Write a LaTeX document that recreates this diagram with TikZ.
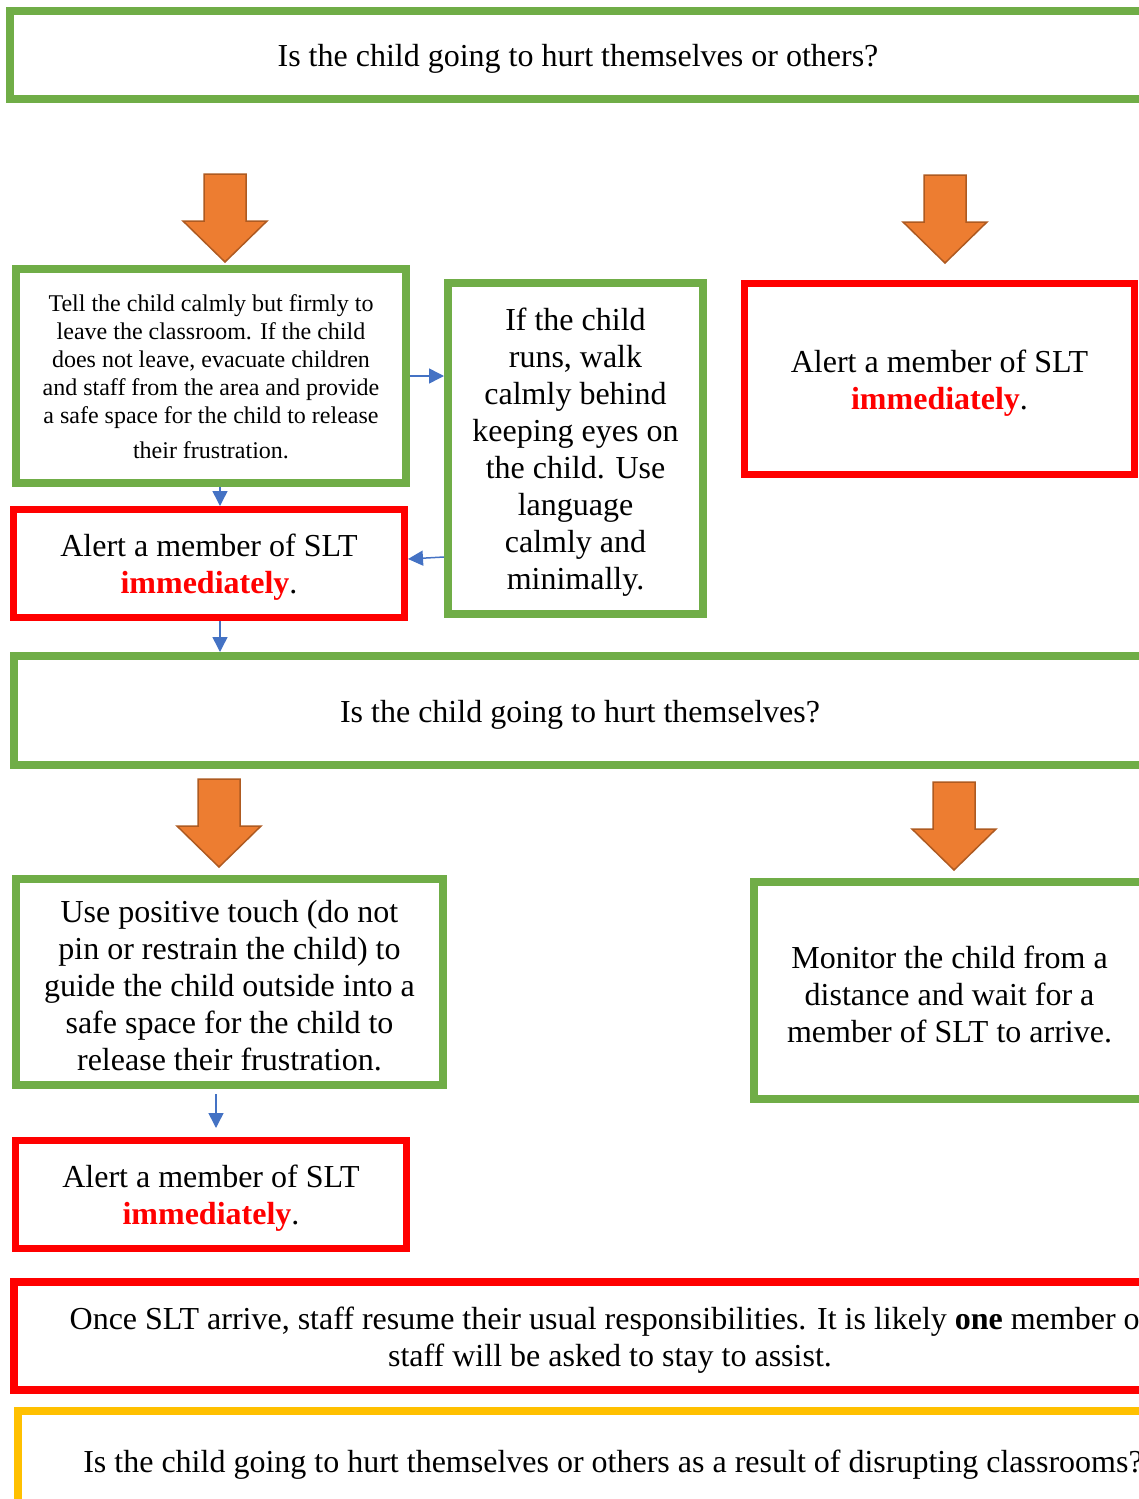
\documentclass[tikz,border=0pt]{standalone}
\usepackage{fontspec}
\setmainfont{Liberation Serif}
\usetikzlibrary{arrows.meta}

\definecolor{boxgreen}{HTML}{70AD47}
\definecolor{boxred}{HTML}{FF0000}
\definecolor{boxyellow}{HTML}{FFC000}
\definecolor{arroworange}{HTML}{ED7D31}
\definecolor{arrowedge}{HTML}{AE5A21}
\definecolor{flowblue}{HTML}{4472C4}
% taller first line, moves the text a little down in its box
\newcommand{\lift}{\rule{0pt}{30pt}}

\begin{document}
\begin{tikzpicture}[x=1pt, y=-1pt,
		box/.style={draw, align=center, inner sep=0pt, font=\fontsize{32pt}{37pt}\selectfont,
			execute at begin node={\lift}},
		greenbox/.style={box, draw=boxgreen, line width=8pt},
		redbox/.style={box, draw=boxred, line width=7pt},
		flow/.style={flowblue, line width=1.5pt, -> , >={Triangle[length=15pt,width=15pt]}},
		orangearrow/.pic={\draw[fill=arroworange, draw=arrowedge, line width=1.5pt]
			(-21,0) -- (21,0) -- (21,47) -- (42,47) -- (0,88) -- (-42,47) -- (-21,47) -- cycle;}]
		\useasboundingbox (0,0) rectangle (1139,1499);
		\clip (0,0) rectangle (1139,1499);
		% question boxes and steps
		\node[greenbox, minimum width=1136pt, minimum height=88pt] (q1) at (578,55) {Is the child going to hurt themselves or others?};
		\node[greenbox, minimum width=390pt, minimum height=214pt, font=\fontsize{24pt}{28pt}\selectfont,
			execute at begin node={}] (tell) at (211,376)
			{\rule{0pt}{19pt}Tell the child calmly but firmly to\\ leave the classroom. If the child\\ does not leave, evacuate children\\ and staff from the area and provide\\ a safe space for the child to release\\[7pt] their frustration.};
		\node[greenbox, minimum width=255pt, minimum height=331pt] (runs) at (575.5,448.5)
			{\lift If the child\\ runs, walk\\ calmly behind\\ keeping eyes on\\ the child. Use\\ language\\ calmly and\\ minimally.};
		\node[redbox, minimum width=390pt, minimum height=191pt] (alertR) at (939.5,379)
			{\lift Alert a member of SLT\\ \textcolor{boxred}{\textbf{immediately}}.};
		\node[redbox, minimum width=391pt, minimum height=108pt] (alertA) at (209,563.5)
			{\lift Alert a member of SLT\\ \textcolor{boxred}{\textbf{immediately}}.};
		\node[greenbox, minimum width=1132pt, minimum height=109pt] (qself) at (580,710.5) {Is the child going to hurt themselves?};
		\node[greenbox, minimum width=427pt, minimum height=206pt] (touch) at (229.5,982)
			{\lift Use positive touch (do not\\ pin or restrain the child) to\\ guide the child outside into a\\ safe space for the child to\\ release their frustration.};
		\node[greenbox, minimum width=391pt, minimum height=217pt] (monitor) at (949.5,990.5)
			{\lift Monitor the child from a\\ distance and wait for a\\ member of SLT to arrive.};
		\node[redbox, minimum width=391pt, minimum height=108pt] (alertB) at (211,1194.5)
			{\lift Alert a member of SLT\\ \textcolor{boxred}{\textbf{immediately}}.};
		\node[redbox, line width=8pt, minimum width=1192pt, minimum height=108pt] (once) at (610,1336)
			{\lift Once SLT arrive, staff resume their usual responsibilities. It is likely \textbf{one} member of\\ staff will be asked to stay to assist.};
		\node[box, draw=boxyellow, line width=8pt, minimum width=1190pt, minimum height=100pt] (qclass) at (613,1461)
			{Is the child going to hurt themselves or others as a result of disrupting classrooms?};
		% big orange arrows
		\pic at (225,174) {orangearrow};
		\pic at (945,175) {orangearrow};
		\pic at (219,779) {orangearrow};
		\pic at (954,782) {orangearrow};
		% small blue arrows
		\draw[flow] ([xshift=9pt]tell.south) -- ([xshift=9pt]tell.south |- alertA.north);
		\draw[flow] (tell.east) -- (tell.east -| runs.west);
		\draw[flow] ([yshift=6.5pt]runs.west |- alertA.east) -- ([yshift=4.5pt]alertA.east);
		\draw[flow] ([xshift=11pt]alertA.south) -- ([xshift=11pt]alertA.south |- qself.north);
		\draw[flow, shorten <=5pt, shorten >=9pt] ([xshift=-13.5pt]touch.south) -- ([xshift=-13.5pt]touch.south |- alertB.north);
	\end{tikzpicture}
\end{document}
